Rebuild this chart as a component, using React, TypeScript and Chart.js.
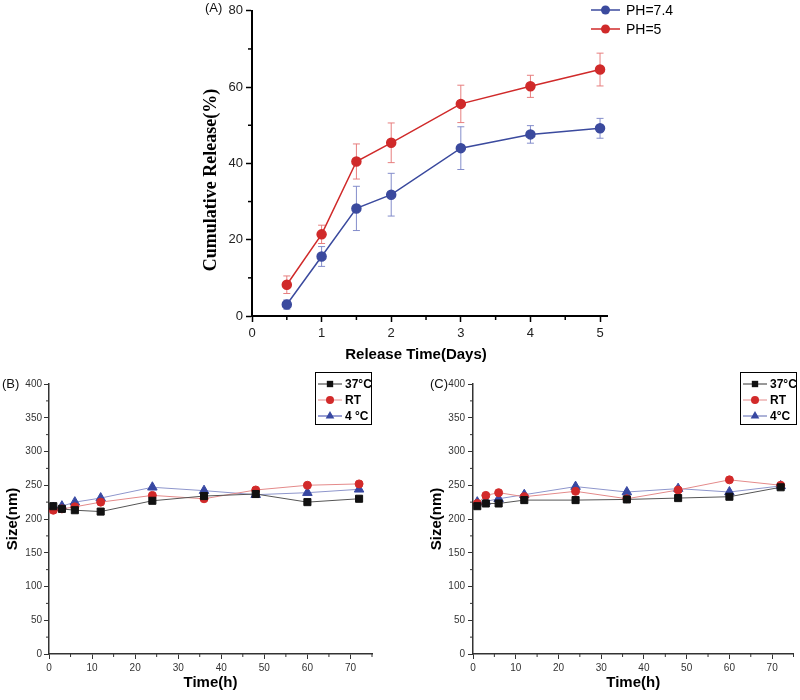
import React, { useEffect, useRef } from 'react';
import { Chart, registerables } from 'chart.js';
Chart.register(...registerables);

// ---------- Panel A data ----------
const daysA = [0.5, 1, 1.5, 2, 3, 4, 5];
const ph74 = [3.0, 15.6, 28.2, 31.8, 44.0, 47.6, 49.2];
const ph74Err = [1.2, 2.6, 5.8, 5.6, 5.6, 2.3, 2.6];
const ph5 = [8.2, 21.4, 40.5, 45.4, 55.6, 60.2, 64.6];
const ph5Err = [2.3, 2.4, 4.6, 5.2, 4.9, 2.9, 4.3];

// ---------- Panel B / C data ----------
const hours = [1, 3, 6, 12, 24, 36, 48, 60, 72];
const b37 = [219, 215, 213, 211, 227, 234, 237, 225, 230];
const bRT = [213, 215, 218, 225, 235, 230, 243, 250, 252];
const b4 = [217, 219, 225, 231, 247, 242, 236, 239, 244];
const b37Err = [4, 3, 2, 2, 3, 2, 2, 3, 2];
const bRTErr = [3, 4, 2, 2, 3, 2, 3, 2, 3];
const b4Err = [3, 3, 2, 2, 2, 3, 3, 2, 2];
const c37 = [219, 223, 223, 228, 228, 229, 231, 233, 247];
const cRT = [223, 235, 239, 233, 241, 230, 243, 258, 250];
const c4 = [225, 226, 230, 236, 248, 240, 245, 240, 249];
const c37Err = [3, 3, 2, 2, 3, 4, 3, 3, 2];
const cRTErr = [3, 2, 2, 2, 2, 3, 2, 2, 2];
const c4Err = [3, 3, 2, 2, 2, 3, 2, 2, 2];

const SANS = 'Liberation Sans, Arial, sans-serif';
const SERIF = 'Liberation Serif, Times New Roman, serif';

const BLUE = '#3b4a9e';
const RED = '#d02a2a';

function drawMarker(ctx: CanvasRenderingContext2D, style: string, x: number, y: number, r: number, color: string) {
  ctx.save();
  ctx.fillStyle = color;
  ctx.beginPath();
  if (style === 'rect') {
    const s = r / Math.SQRT2;
    ctx.rect(x - s, y - s, 2 * s, 2 * s);
  } else if (style === 'triangle') {
    ctx.moveTo(x, y - r);
    ctx.lineTo(x + r * 0.866, y + r * 0.5);
    ctx.lineTo(x - r * 0.866, y + r * 0.5);
    ctx.closePath();
  } else {
    ctx.arc(x, y, r, 0, Math.PI * 2);
  }
  ctx.fill();
  ctx.restore();
}

const decorPlugin = {
  id: 'decor',
  beforeDatasetsDraw(chart: any, _a: any, opts: any) {
    const ctx: CanvasRenderingContext2D = chart.ctx;
    const ys = chart.scales.y;
    const xs = chart.scales.x;
    chart.data.datasets.forEach((ds: any) => {
      if (!ds.errors) return;
      ctx.save();
      ctx.strokeStyle = ds.errorColor;
      ctx.lineWidth = 1;
      ds.data.forEach((p: any, j: number) => {
        const e = ds.errors[j];
        const px = xs.getPixelForValue(p.x);
        const y1 = ys.getPixelForValue(p.y + e);
        const y2 = ys.getPixelForValue(p.y - e);
        const c = opts.cap || 3;
        ctx.beginPath();
        ctx.moveTo(px, y1); ctx.lineTo(px, y2);
        ctx.moveTo(px - c, y1); ctx.lineTo(px + c, y1);
        ctx.moveTo(px - c, y2); ctx.lineTo(px + c, y2);
        ctx.stroke();
      });
      ctx.restore();
    });
  },
  afterDraw(chart: any, _a: any, opts: any) {
    const ctx: CanvasRenderingContext2D = chart.ctx;
    const xs = chart.scales.x;
    const ys = chart.scales.y;
    ctx.save();
    ctx.strokeStyle = opts.tickColor || '#000';
    ctx.lineWidth = opts.tickWidth || 1;
    // minor ticks
    if (opts.minorX) {
      const { step, major, len } = opts.minorX;
      for (let i = 0; ; i++) {
        const v = xs.min + i * step;
        if (v > xs.max + 1e-9) break;
        if (Math.abs(v / major - Math.round(v / major)) < 1e-6) continue;
        const p = xs.getPixelForValue(v);
        ctx.beginPath();
        ctx.moveTo(p, chart.chartArea.bottom);
        ctx.lineTo(p, chart.chartArea.bottom + len);
        ctx.stroke();
      }
    }
    if (opts.minorY) {
      const { step, major, len } = opts.minorY;
      for (let i = 0; ; i++) {
        const v = ys.min + i * step;
        if (v > ys.max + 1e-9) break;
        if (Math.abs(v / major - Math.round(v / major)) < 1e-6) continue;
        const p = ys.getPixelForValue(v);
        ctx.beginPath();
        ctx.moveTo(chart.chartArea.left - len, p);
        ctx.lineTo(chart.chartArea.left, p);
        ctx.stroke();
      }
    }
    ctx.restore();
    // custom axis titles
    if (opts.titles) {
      opts.titles.forEach((t: any) => {
        ctx.save();
        ctx.fillStyle = '#000';
        ctx.font = t.font;
        ctx.textAlign = 'center';
        ctx.textBaseline = 'middle';
        ctx.translate(t.x, t.y);
        if (t.rotate) ctx.rotate(-Math.PI / 2);
        ctx.fillText(t.text, 0, 0);
        ctx.restore();
      });
    }
    // panel label
    if (opts.label) {
      ctx.save();
      ctx.fillStyle = '#111';
      ctx.font = `${opts.label.size || 13}px ${SANS}`;
      ctx.textBaseline = 'middle';
      ctx.textAlign = 'left';
      ctx.fillText(opts.label.text, opts.label.x, opts.label.y);
      ctx.restore();
    }
    // legend
    if (opts.legend) {
      const L = opts.legend;
      ctx.save();
      if (L.box) {
        ctx.strokeStyle = '#000';
        ctx.lineWidth = 1;
        ctx.strokeRect(L.box.x + 0.5, L.box.y + 0.5, L.box.w, L.box.h);
      }
      L.items.forEach((it: any, i: number) => {
        const y = L.y0 + i * L.dy;
        ctx.strokeStyle = it.lineColor;
        ctx.lineWidth = it.lineWidth || 1;
        ctx.beginPath();
        ctx.moveTo(L.x, y);
        ctx.lineTo(L.x + L.lineLen, y);
        ctx.stroke();
        drawMarker(ctx, it.style, L.x + L.lineLen / 2, y, it.r, it.color);
        ctx.fillStyle = '#000';
        ctx.font = L.font;
        ctx.textBaseline = 'middle';
        ctx.textAlign = 'left';
        ctx.fillText(it.text, L.x + L.lineLen + L.gap, y + 1);
      });
      ctx.restore();
    }
  },
};

function pts(xs: number[], ys: number[]) {
  return xs.map((x, i) => ({ x, y: ys[i] }));
}

function configA(): any {
  return {
    type: 'line',
    data: {
      datasets: [
        {
          label: 'PH=7.4', data: pts(daysA, ph74), errors: ph74Err, errorColor: 'rgba(125,135,200,0.95)',
          borderColor: BLUE, backgroundColor: BLUE, pointBackgroundColor: BLUE, pointBorderColor: BLUE,
          borderWidth: 1.5, pointRadius: 4.5, pointHoverRadius: 4.5, pointStyle: 'circle', tension: 0,
        },
        {
          label: 'PH=5', data: pts(daysA, ph5), errors: ph5Err, errorColor: 'rgba(230,120,120,0.95)',
          borderColor: RED, backgroundColor: RED, pointBackgroundColor: RED, pointBorderColor: RED,
          borderWidth: 1.5, pointRadius: 4.5, pointHoverRadius: 4.5, pointStyle: 'circle', tension: 0,
        },
      ],
    },
    options: {
      responsive: false,
      animation: false,
      layout: { padding: { top: 7, right: 193, left: 0, bottom: 0 } },
      plugins: {
        legend: { display: false },
        tooltip: { enabled: false },
        decor: {
          cap: 3.5,
          tickColor: '#000', tickWidth: 1.5,
          minorX: { step: 0.5, major: 1, len: 4 },
          minorY: { step: 10, major: 20, len: 4 },
          label: { text: '(A)', x: 205, y: 8, size: 13 },
          titles: [
            { text: 'Release Time(Days)', x: 416, y: 355, font: `bold 15px ${SANS}` },
            { text: 'Cumulative Release(%)', x: 211, y: 180, rotate: true, font: `bold 18px ${SERIF}` },
          ],
          legend: {
            x: 591, y0: 10, dy: 19, lineLen: 29, gap: 6, font: `14px ${SANS}`,
            items: [
              { text: 'PH=7.4', style: 'circle', r: 4.5, color: BLUE, lineColor: BLUE, lineWidth: 1.5 },
              { text: 'PH=5', style: 'circle', r: 4.5, color: RED, lineColor: RED, lineWidth: 1.5 },
            ],
          },
        },
      },
      scales: {
        x: {
          type: 'linear', min: 0, max: 5.1,
          afterFit(s: any) { s.height = 54; },
          ticks: { stepSize: 1, includeBounds: false, padding: 4, color: '#222', font: { family: SANS, size: 13 } },
          grid: { display: true, drawOnChartArea: false, drawTicks: true, tickLength: 6, tickColor: '#000', tickWidth: 1.5 },
          border: { display: true, color: '#000', width: 2 },
          title: { display: false },
        },
        y: {
          type: 'linear', min: 0, max: 80,
          afterFit(s: any) { s.width = 252; },
          ticks: { stepSize: 20, includeBounds: false, padding: 3, color: '#222', font: { family: SANS, size: 13 } },
          grid: { display: true, drawOnChartArea: false, drawTicks: true, tickLength: 6, tickColor: '#000', tickWidth: 1.5 },
          border: { display: true, color: '#000', width: 2 },
          title: { display: false },
        },
      },
    },
  };
}

function configSize(d37: number[], dRT: number[], d4: number[], e37: number[], eRT: number[], e4: number[], panel: string): any {
  const isB = panel === 'B';
  const yWidth = isB ? 49 : 73;
  const padRight = isB ? 28 : 2;
  const legendX = isB ? 318 : 343;
  const boxX = isB ? 315 : 340;
  return {
    type: 'line',
    data: {
      datasets: [
        {
          label: '37°C', data: pts(hours, d37), errors: e37, errorColor: 'rgba(150,150,150,0.9)',
          borderColor: '#555', pointBackgroundColor: '#111', pointBorderColor: '#111',
          borderWidth: 1, pointRadius: 5, pointHoverRadius: 5, pointStyle: 'rect', tension: 0,
        },
        {
          label: 'RT', data: pts(hours, dRT), errors: eRT, errorColor: 'rgba(230,140,140,0.9)',
          borderColor: '#e48a8a', pointBackgroundColor: '#d22a2a', pointBorderColor: '#d22a2a',
          borderWidth: 1, pointRadius: 4, pointHoverRadius: 4, pointStyle: 'circle', tension: 0,
        },
        {
          label: '4°C', data: pts(hours, d4), errors: e4, errorColor: 'rgba(140,150,210,0.9)',
          borderColor: '#8e96cc', pointBackgroundColor: '#3848a2', pointBorderColor: '#3848a2',
          borderWidth: 1, pointRadius: 5.5, pointHoverRadius: 5.5, pointStyle: 'triangle', tension: 0,
        },
      ],
    },
    options: {
      responsive: false,
      animation: false,
      layout: { padding: { top: 14, right: padRight, left: 0, bottom: 0 } },
      plugins: {
        legend: { display: false },
        tooltip: { enabled: false },
        decor: {
          cap: 2,
          tickColor: '#333', tickWidth: 1,
          minorX: { step: 5, major: 10, len: 3 },
          minorY: { step: 25, major: 50, len: 3 },
          label: isB ? { text: '(B)', x: 2, y: 14, size: 13 } : { text: '(C)', x: 30, y: 14, size: 13 },
          legend: {
            box: { x: boxX, y: 2, w: 56, h: 52 },
            x: legendX, y0: 14, dy: 16, lineLen: 24, gap: 3, font: `bold 12px ${SANS}`,
            items: [
              { text: '37°C', style: 'rect', r: 4.5, color: '#111', lineColor: '#333' },
              { text: 'RT', style: 'circle', r: 4, color: '#d22a2a', lineColor: '#e48a8a' },
              { text: isB ? '4 °C' : '4°C', style: 'triangle', r: 5, color: '#3848a2', lineColor: isB ? '#9aa0d4' : '#5a66b0', lineWidth: isB ? 2 : 1 },
            ],
          },
        },
      },
      scales: {
        x: {
          type: 'linear', min: 0, max: 75,
          afterFit(s: any) { s.height = 46; },
          ticks: { stepSize: 10, includeBounds: false, padding: 3, color: '#333', font: { family: SANS, size: 10 } },
          grid: { display: true, drawOnChartArea: false, drawTicks: true, tickLength: 5, tickColor: '#333', tickWidth: 1 },
          border: { display: true, color: '#333', width: 1.5 },
          title: { display: true, text: 'Time(h)', color: '#000', font: { family: SANS, size: 15, weight: 'bold' }, padding: { top: 0, bottom: 8 } },
        },
        y: {
          type: 'linear', min: 0, max: 400,
          afterFit(s: any) { s.width = yWidth; },
          ticks: { stepSize: 50, includeBounds: false, padding: isB ? 2 : 3, color: '#333', font: { family: SANS, size: 10 } },
          grid: { display: true, drawOnChartArea: false, drawTicks: true, tickLength: 5, tickColor: '#333', tickWidth: 1 },
          border: { display: true, color: '#333', width: 1.5 },
          title: { display: true, text: 'Size(nm)', color: '#000', font: { family: SANS, size: 15, weight: 'bold' }, padding: { top: isB ? 4 : 28, bottom: 0 } },
        },
      },
    },
  };
}

function ChartCanvas({ config, width, height, left, top }: { config: () => any; width: number; height: number; left: number; top: number }) {
  const ref = useRef<HTMLCanvasElement | null>(null);
  useEffect(() => {
    if (!ref.current) return;
    const chart = new Chart(ref.current, { ...config(), plugins: [decorPlugin] });
    return () => chart.destroy();
  }, []);
  return (
    <canvas
      ref={ref}
      width={width}
      height={height}
      style={{ position: 'absolute', left, top, width, height }}
    />
  );
}

export default function App() {
  return (
    <div style={{ position: 'absolute', left: 0, top: 0, width: 800, height: 700, background: '#fff', overflow: 'hidden' }}>
      <ChartCanvas config={configA} width={800} height={370} left={0} top={0} />
      <ChartCanvas config={() => configSize(b37, bRT, b4, b37Err, bRTErr, b4Err, 'B')} width={400} height={330} left={0} top={370} />
      <ChartCanvas config={() => configSize(c37, cRT, c4, c37Err, cRTErr, c4Err, 'C')} width={400} height={330} left={400} top={370} />
    </div>
  );
}
